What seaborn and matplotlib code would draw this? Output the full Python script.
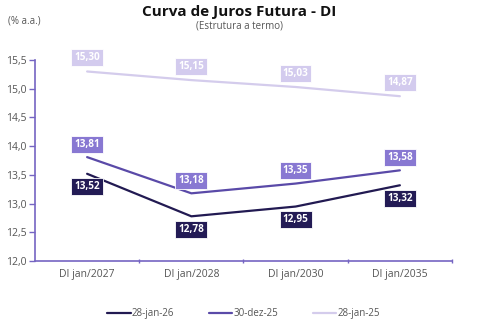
import numpy as np
import pandas as pd
import matplotlib
matplotlib.use("Agg")
import matplotlib.pyplot as plt
import seaborn as sns
from matplotlib.ticker import FuncFormatter, FixedLocator

# Vértices da curva de juros
categories = ["DI jan/2027", "DI jan/2028", "DI jan/2030", "DI jan/2035"]
series_names = ["28-jan-26", "30-dez-25", "28-jan-25"]
rates_28jan26 = [13.52, 12.78, 12.95, 13.32]
rates_30dez25 = [13.81, 13.18, 13.35, 13.58]
rates_28jan25 = [15.30, 15.15, 15.03, 14.87]
y_ticks = [12.0, 12.5, 13.0, 13.5, 14.0, 14.5, 15.0, 15.5]

line_colors = ["#221a52", "#5a4aa8", "#d4ccec"]
box_colors = ["#231b55", "#8878d2", "#d3cbee"]
label_offsets = [-13, 13, 14]  # pixels: below / above / above
axis_color = "#7565c2"
text_color = "#555555"

all_rates = [rates_28jan26, rates_30dez25, rates_28jan25]
df = pd.DataFrame({
    "vertice": categories * len(series_names),
    "pos": list(range(len(categories))) * len(series_names),
    "taxa": rates_28jan26 + rates_30dez25 + rates_28jan25,
    "serie": np.repeat(series_names, len(categories)),
})

sns.set_theme(style="white")
plt.rcParams["font.family"] = ["Open Sans", "DejaVu Sans"]

fig = plt.figure(figsize=(4.78, 3.22), dpi=100)
ax = fig.add_axes([0.0732, 0.189, 0.8724, 0.6247])

sns.lineplot(data=df, x="pos", y="taxa", hue="serie", hue_order=series_names,
             palette=line_colors, linewidth=1.6, ax=ax, legend=True)

fmt = lambda v: f"{v:.2f}".replace(".", ",")
for vals, bc, off in zip(all_rates, box_colors, label_offsets):
    for i, v in enumerate(vals):
        ax.annotate(fmt(v), (i, v), xytext=(0, off), textcoords="offset pixels",
                    ha="center", va="center", fontsize=7.2, fontweight="bold",
                    color="white",
                    bbox=dict(boxstyle="square,pad=0.3", fc=bc, ec="white", lw=0.6))

ax.set_xlim(-0.5, len(categories) - 0.5)
ax.set_ylim(12.0, 15.5)
ax.set_xticks(range(len(categories)))
ax.set_xticklabels(categories)
ax.xaxis.set_minor_locator(FixedLocator([0.5, 1.5, 2.5, 3.5]))
ax.set_yticks(y_ticks)
ax.yaxis.set_major_formatter(FuncFormatter(lambda v, p: f"{v:.1f}".replace(".", ",")))
ax.set_xlabel("")
ax.set_ylabel("")

for s in ["top", "right"]:
    ax.spines[s].set_visible(False)
for s in ["left", "bottom"]:
    ax.spines[s].set_color(axis_color)
    ax.spines[s].set_linewidth(1.2)
ax.tick_params(axis="y", which="major", length=4, width=1, color=axis_color,
               labelsize=7.5, labelcolor=text_color, pad=2, left=True)
ax.tick_params(axis="x", which="major", length=0, labelsize=7.5,
               labelcolor=text_color, pad=6)
ax.tick_params(axis="x", which="minor", length=3, width=1, color=axis_color,
               direction="inout", bottom=True)

leg = ax.legend(loc="upper center", bbox_to_anchor=(0.5, -0.19), ncol=3,
                frameon=False, fontsize=7, handlelength=2.4, handletextpad=0.1,
                columnspacing=3.6)
for t in leg.get_texts():
    t.set_color(text_color)

fig.text(0.5, 0.963, "Curva de Juros Futura - DI", ha="center", va="center",
         fontsize=11, fontweight="bold", color="#111111")
fig.text(0.5, 0.918, "(Estrutura a termo)", ha="center", va="center",
         fontsize=7, color=text_color)
fig.text(0.017, 0.935, "(% a.a.)", ha="left", va="center",
         fontsize=7, color=text_color)

fig.savefig("out.png", dpi=100)
